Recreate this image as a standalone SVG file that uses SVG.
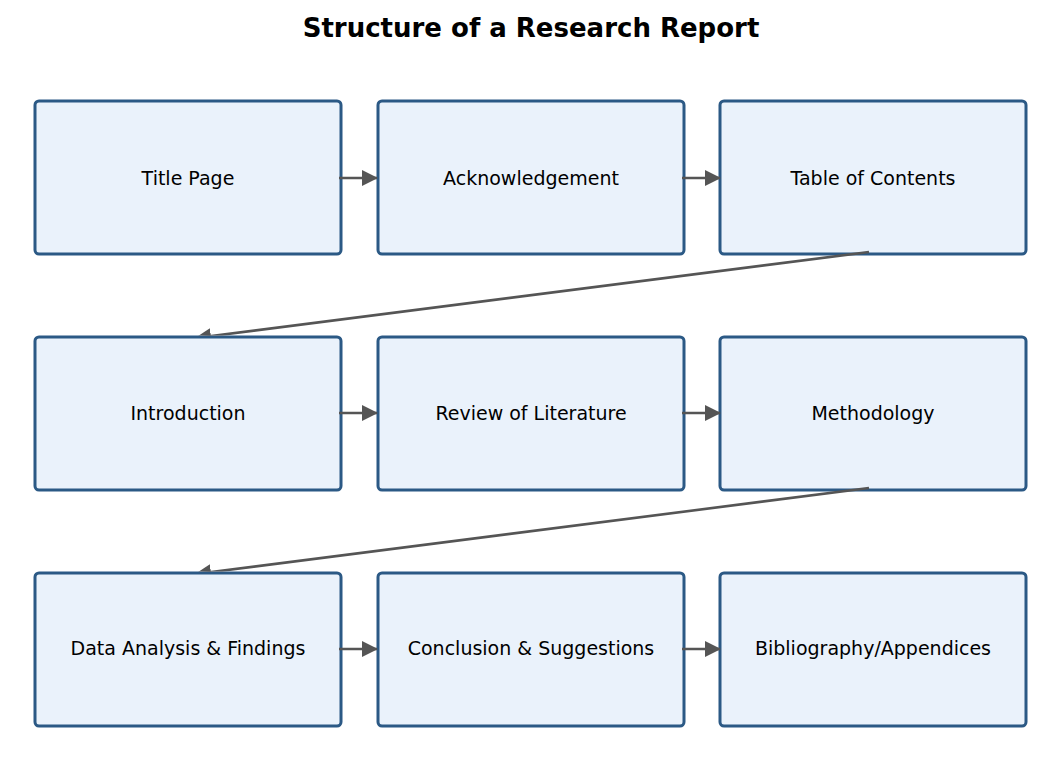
<svg xmlns="http://www.w3.org/2000/svg" width="1061" height="784" viewBox="0 0 1061 784">
<style>
.box{fill:#eaf2fb;stroke:#2b5985;stroke-width:3}
.lbl{font-family:"DejaVu Sans",sans-serif;font-size:19px;fill:#000;text-anchor:middle}
.conn{stroke:#555;stroke-width:2.6;fill:none;marker-end:url(#ah)}
.title{font-family:"DejaVu Sans",sans-serif;font-size:26px;font-weight:bold;text-anchor:middle}
</style>
<defs>
<marker id="ah" viewBox="0 0 16 16" refX="15" refY="8" markerWidth="16" markerHeight="16" markerUnits="userSpaceOnUse" orient="auto">
<path d="M0,0 L16,8 L0,16 Z" fill="#555"/>
</marker>
<clipPath id="c1" clipPathUnits="userSpaceOnUse"><rect x="0" y="0" width="1061" height="335.5"/></clipPath>
<clipPath id="c2" clipPathUnits="userSpaceOnUse"><rect x="0" y="0" width="1061" height="571.5"/></clipPath>
</defs>
<rect width="1061" height="784" fill="#fff"/>
<text class="title" x="531" y="37">Structure of a Research Report</text>
<g id="n1"><rect class="box" x="35" y="101" width="306" height="153" rx="4"/><text class="lbl" x="188" y="185">Title Page</text></g>
<g id="n2"><rect class="box" x="378" y="101" width="306" height="153" rx="4"/><text class="lbl" x="531" y="185">Acknowledgement</text></g>
<g id="n3"><rect class="box" x="720" y="101" width="306" height="153" rx="4"/><text class="lbl" x="873" y="185">Table of Contents</text></g>
<g id="n4"><rect class="box" x="35" y="337" width="306" height="153" rx="4"/><text class="lbl" x="188" y="420">Introduction</text></g>
<g id="n5"><rect class="box" x="378" y="337" width="306" height="153" rx="4"/><text class="lbl" x="531" y="420">Review of Literature</text></g>
<g id="n6"><rect class="box" x="720" y="337" width="306" height="153" rx="4"/><text class="lbl" x="873" y="420">Methodology</text></g>
<g id="n7"><rect class="box" x="35" y="573" width="306" height="153" rx="4"/><text class="lbl" x="188" y="655">Data Analysis &amp; Findings</text></g>
<g id="n8"><rect class="box" x="378" y="573" width="306" height="153" rx="4"/><text class="lbl" x="531" y="655">Conclusion &amp; Suggestions</text></g>
<g id="n9"><rect class="box" x="720" y="573" width="306" height="153" rx="4"/><text class="lbl" x="873" y="655">Bibliography/Appendices</text></g>
<g id="connectors">
<line class="conn" x1="339" y1="178" x2="377" y2="178"/>
<line class="conn" x1="682" y1="178" x2="720" y2="178"/>
<line class="conn" x1="869" y1="252" x2="196" y2="338" clip-path="url(#c1)"/>
<line class="conn" x1="339" y1="413" x2="377" y2="413"/>
<line class="conn" x1="682" y1="413" x2="720" y2="413"/>
<line class="conn" x1="869" y1="488" x2="196" y2="574" clip-path="url(#c2)"/>
<line class="conn" x1="339" y1="649" x2="377" y2="649"/>
<line class="conn" x1="682" y1="649" x2="720" y2="649"/>
</g>
</svg>
